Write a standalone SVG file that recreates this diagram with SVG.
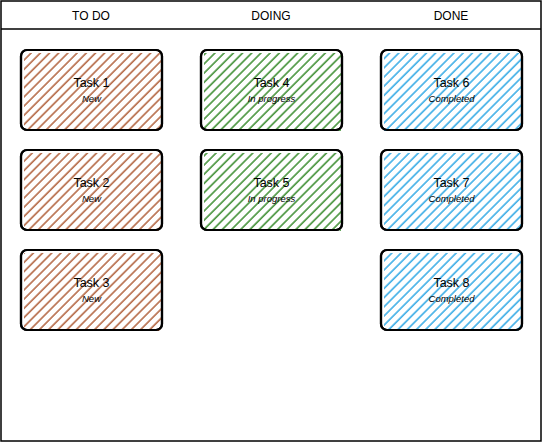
<svg xmlns="http://www.w3.org/2000/svg" width="542" height="442" viewBox="0 0 542 442">
<style>
.frame{fill:#fff;stroke:#000;stroke-width:1.5}
.hdr{font-family:"Liberation Sans",Arial,sans-serif;font-size:12px;fill:#000;text-anchor:middle}
.card{fill:#fff;stroke:#000;stroke-width:2.2}
.edge{fill:none;stroke:#000;stroke-width:2.2}
.t{font-family:"Liberation Sans",Arial,sans-serif;font-size:12.5px;fill:#000;text-anchor:middle}
.s{font-family:"Liberation Sans",Arial,sans-serif;font-size:9.5px;font-style:italic;fill:#000;text-anchor:middle}
</style>
<defs>
<pattern id="hb" patternUnits="userSpaceOnUse" width="6.5" height="10" patternTransform="rotate(45)"><line x1="1" y1="0" x2="1" y2="10" stroke="#a3461b" stroke-width="1.3"/></pattern>
<pattern id="hg" patternUnits="userSpaceOnUse" width="6.5" height="10" patternTransform="rotate(45)"><line x1="1" y1="0" x2="1" y2="10" stroke="#18780a" stroke-width="1.3"/></pattern>
<pattern id="hl" patternUnits="userSpaceOnUse" width="6.5" height="10" patternTransform="rotate(45)"><line x1="1" y1="0" x2="1" y2="10" stroke="#0e9ae0" stroke-width="1.3"/></pattern>
</defs>
<g id="board">
<rect class="frame" x="1" y="1" width="540" height="440"/>
<line x1="1" y1="29" x2="541" y2="29" stroke="#000" stroke-width="1.5"/>
<text class="hdr" x="91" y="20">TO DO</text>
<text class="hdr" x="271" y="20">DOING</text>
<text class="hdr" x="451" y="20">DONE</text>
</g>
<g id="connectors"></g>
<g id="task1"><rect class="card" x="21" y="50" width="141" height="80" rx="6"/><rect x="24" y="53" width="137" height="78" fill="url(#hb)"/><rect class="edge" x="21" y="50" width="141" height="80" rx="6"/><text class="t" x="91.5" y="87">Task 1</text><text class="s" x="91.5" y="102">New</text></g>
<g id="task2"><rect class="card" x="21" y="150" width="141" height="80" rx="6"/><rect x="24" y="153" width="137" height="78" fill="url(#hb)"/><rect class="edge" x="21" y="150" width="141" height="80" rx="6"/><text class="t" x="91.5" y="187">Task 2</text><text class="s" x="91.5" y="202">New</text></g>
<g id="task3"><rect class="card" x="21" y="250" width="141" height="80" rx="6"/><rect x="24" y="253" width="137" height="78" fill="url(#hb)"/><rect class="edge" x="21" y="250" width="141" height="80" rx="6"/><text class="t" x="91.5" y="287">Task 3</text><text class="s" x="91.5" y="302">New</text></g>
<g id="task4"><rect class="card" x="201" y="50" width="141" height="80" rx="6"/><rect x="204" y="53" width="137" height="78" fill="url(#hg)"/><rect class="edge" x="201" y="50" width="141" height="80" rx="6"/><text class="t" x="271.5" y="87">Task 4</text><text class="s" x="271.5" y="102">In progress</text></g>
<g id="task5"><rect class="card" x="201" y="150" width="141" height="80" rx="6"/><rect x="204" y="153" width="137" height="78" fill="url(#hg)"/><rect class="edge" x="201" y="150" width="141" height="80" rx="6"/><text class="t" x="271.5" y="187">Task 5</text><text class="s" x="271.5" y="202">In progress</text></g>
<g id="task6"><rect class="card" x="381" y="50" width="141" height="80" rx="6"/><rect x="384" y="53" width="137" height="78" fill="url(#hl)"/><rect class="edge" x="381" y="50" width="141" height="80" rx="6"/><text class="t" x="451.5" y="87">Task 6</text><text class="s" x="451.5" y="102">Completed</text></g>
<g id="task7"><rect class="card" x="381" y="150" width="141" height="80" rx="6"/><rect x="384" y="153" width="137" height="78" fill="url(#hl)"/><rect class="edge" x="381" y="150" width="141" height="80" rx="6"/><text class="t" x="451.5" y="187">Task 7</text><text class="s" x="451.5" y="202">Completed</text></g>
<g id="task8"><rect class="card" x="381" y="250" width="141" height="80" rx="6"/><rect x="384" y="253" width="137" height="78" fill="url(#hl)"/><rect class="edge" x="381" y="250" width="141" height="80" rx="6"/><text class="t" x="451.5" y="287">Task 8</text><text class="s" x="451.5" y="302">Completed</text></g>
</svg>
